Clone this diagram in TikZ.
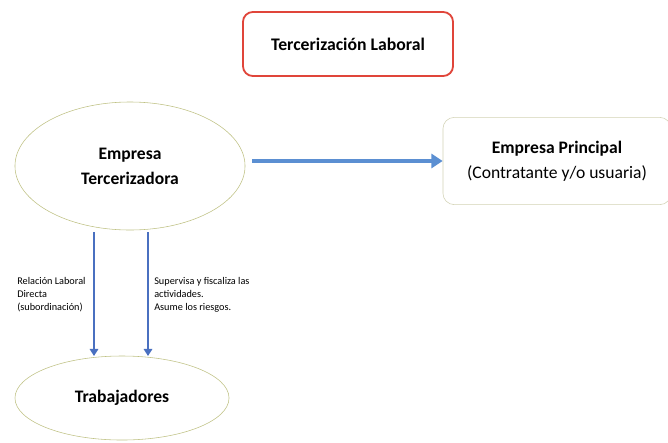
\documentclass[tikz,border=0pt]{standalone}
\usepackage{fontspec}
\setmainfont{Carlito}
\usetikzlibrary{shapes.geometric,arrows.meta}
\definecolor{ovalline}{HTML}{BFC184}
\definecolor{boxline}{HTML}{D2D2B4}
\definecolor{titlered}{HTML}{E0453A}
\definecolor{flowblue}{HTML}{5B8FD2}
\definecolor{downblue}{HTML}{4A70C0}
\begin{document}
\begin{tikzpicture}[x=0.025cm,y=-0.025cm,
  oval/.style={draw=ovalline,ellipse,inner sep=0pt,align=center},
  note/.style={font=\fontsize{7.3}{9.2}\selectfont,align=left,anchor=north west,inner sep=0pt}]
  \useasboundingbox (0,0) rectangle (668,442);
  \node (titulo) at (348,44) [draw=titlered,line width=1.3pt,rounded corners=7pt,
    minimum width=5.25cm,minimum height=1.6cm,font=\fontsize{12.6}{14}\selectfont\bfseries] {Tercerización Laboral};
  \node (terc) at (130,166) [oval,minimum width=5.75cm,minimum height=3.2cm,
    font=\fontsize{12.5}{17.7}\selectfont\bfseries] {Empresa\\Tercerizadora};
  \node (princ) at (557,161) [draw=boxline,rounded corners=8pt,minimum width=5.7cm,minimum height=2.18cm,
    align=center,font=\fontsize{12.5}{18}\selectfont] {\textbf{Empresa Principal}\\(Contratante y/o usuaria)};
  \node (trab) at (122,398) [oval,minimum width=5.35cm,minimum height=2.1cm,
    font=\fontsize{12.5}{15}\selectfont\bfseries] {Trabajadores};
  % flechas
  \coordinate (s) at ([xshift=7*0.025cm]terc.east |- princ.west);
  \coordinate (a1) at (94,232);
  \coordinate (b1) at (94,356);
  \coordinate (a2) at (148,232);
  \coordinate (b2) at (148,356);
  \draw[flowblue,line width=3.2pt,-{Triangle[width=10pt,length=8pt]}] (s) -- (princ.west);
  \draw[downblue,line width=1.7pt,-{Triangle[width=6pt,length=5pt]}] (a1) -- (b1);
  \draw[downblue,line width=1.7pt,-{Triangle[width=6pt,length=5pt]}] (a2) -- (b2);
  \node (rel) at (17,277) [note] {Relación Laboral\\Directa\\(subordinación)};
  \node (sup) at (154,277) [note] {Supervisa y fiscaliza las\\actividades.\\Asume los riesgos.};
\end{tikzpicture}
\end{document}
